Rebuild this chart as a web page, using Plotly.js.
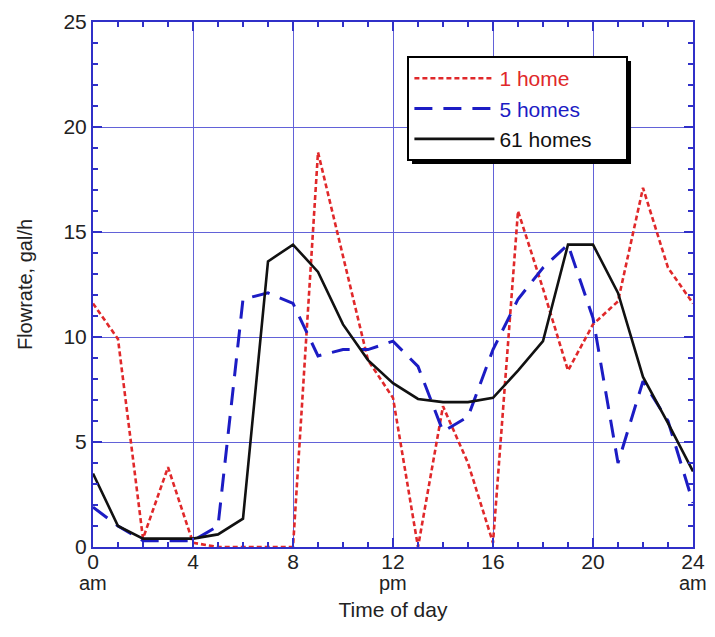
<!DOCTYPE html>
<html>
<head>
<meta charset="utf-8">
<script src="https://cdn.plot.ly/plotly-3.0.1.min.js"></script>
<style>
  html, body { margin: 0; padding: 0; background: #ffffff; }
  #chart { width: 715px; height: 637px; }
</style>
</head>
<body>
<div id="chart"></div>
<script>
// ---- Data ----
const hours = [0,1,2,3,4,5,6,7,8,9,10,11,12,13,14,15,16,17,18,19,20,21,22,23,24];
const oneHome   = [11.6, 9.9, 0.4, 3.8, 0.2, 0, 0, 0, 0, 18.8, 13.8, 8.9, 7.1, 0, 6.7, 4.0, 0.2, 16.0, 12.3, 8.4, 10.6, 11.7, 17.1, 13.3, 11.6];
const fiveHomes = [1.9, 1.0, 0.3, 0.3, 0.3, 1.0, 11.8, 12.1, 11.6, 9.1, 9.4, 9.4, 9.8, 8.6, 5.5, 6.2, 9.4, 11.8, 13.3, 14.4, 10.9, 4.0, 7.9, 6.0, 2.1];
const sixtyOneHomes = [3.5, 1.0, 0.4, 0.4, 0.4, 0.6, 1.35, 13.6, 14.4, 13.1, 10.6, 8.9, 7.8, 7.05, 6.9, 6.9, 7.1, 8.4, 9.8, 14.4, 14.4, 12.1, 8.1, 5.9, 3.6];

const seriesNames = ['1 home', '5 homes', '61 homes'];
const xTickVals = [0, 4, 8, 12, 16, 20, 24];
const xTickText = ['0', '4', '8', '12', '16', '20', '24'];
const periodHours = [0, 12, 24];
const periodLabels = ['am', 'pm', 'am'];
const yTickVals = [0, 5, 10, 15, 20, 25];

const RED = '#e0282a', BLUE = '#1c1cc4', BLACK = '#111111';
const GRID = '#6262d8', AXIS = '#3030c8';
const PAD = '\u00a0\u00a0\u00a0\u00a0\u00a0';

const traces = [
  { x: hours, y: oneHome, name: '<span style="color:' + RED + '">' + seriesNames[0] + '</span>',
    mode: 'lines', line: { color: RED, width: 2.6, dash: '5px,3px' } },
  { x: hours, y: fiveHomes, name: '<span style="color:' + BLUE + '">' + seriesNames[1] + '</span>',
    mode: 'lines', line: { color: BLUE, width: 3, dash: '18px,11px' } },
  { x: hours, y: sixtyOneHomes, name: '<span style="color:' + BLACK + '">' + seriesNames[2] + PAD + '</span>',
    mode: 'lines', line: { color: BLACK, width: 2.6 } }
];

const FONT = 'Liberation Sans, Arial, Helvetica, sans-serif';

const periodAnnotations = periodHours.map((h, i) => ({
  x: h, y: 0, xref: 'x', yref: 'paper', text: periodLabels[i], showarrow: false,
  yanchor: 'top', yshift: -23, font: { family: FONT, size: 20, color: '#222222' }
}));

const layout = {
  width: 715, height: 637,
  margin: { l: 93, r: 22, t: 22, b: 90 },
  paper_bgcolor: '#ffffff', plot_bgcolor: '#ffffff',
  font: { family: FONT, size: 20, color: '#222222' },
  showlegend: true,
  legend: {
    x: 0.524, y: 0.935, xanchor: 'left', yanchor: 'top',
    bgcolor: '#ffffff', bordercolor: '#000000', borderwidth: 2,
    font: { family: FONT, size: 21 },
    itemwidth: 80
  },
  xaxis: {
    range: [0, 24], tickvals: xTickVals, ticktext: xTickText,
    showgrid: true, gridcolor: GRID, gridwidth: 1,
    showline: true, linecolor: AXIS, linewidth: 2, mirror: 'allticks',
    ticks: 'inside', ticklen: 9, tickcolor: AXIS, tickwidth: 1.5,
    minor: { dtick: 1, ticks: 'inside', ticklen: 5, tickcolor: AXIS, tickwidth: 1.5, showgrid: false },
    zeroline: false, tickfont: { size: 21 }, ticklabelstandoff: -5,
    title: { text: 'Time of day', font: { size: 21 }, standoff: 30 }
  },
  yaxis: {
    range: [0, 25], tickvals: yTickVals,
    showgrid: true, gridcolor: GRID, gridwidth: 1,
    showline: true, linecolor: AXIS, linewidth: 2, mirror: 'allticks',
    ticks: 'inside', ticklen: 9, tickcolor: AXIS, tickwidth: 1.5,
    minor: { dtick: 1, ticks: 'inside', ticklen: 5, tickcolor: AXIS, tickwidth: 1.5, showgrid: false },
    zeroline: false, tickfont: { size: 21 },
    title: { text: 'Flowrate, gal/h', font: { size: 20 }, standoff: 25 }
  },
  annotations: periodAnnotations,
  shapes: [
    // legend drop shadow (offset a few pixels right/down of the legend box)
    { type: 'rect', xref: 'paper', yref: 'paper', layer: 'above',
      x0: 0.5317, x1: 0.8967, y0: 0.7295, y1: 0.9257,
      line: { width: 0 }, fillcolor: '#000000' }
  ]
};

Plotly.newPlot('chart', traces, layout, { displayModeBar: false, staticPlot: true });
</script>
</body>
</html>
